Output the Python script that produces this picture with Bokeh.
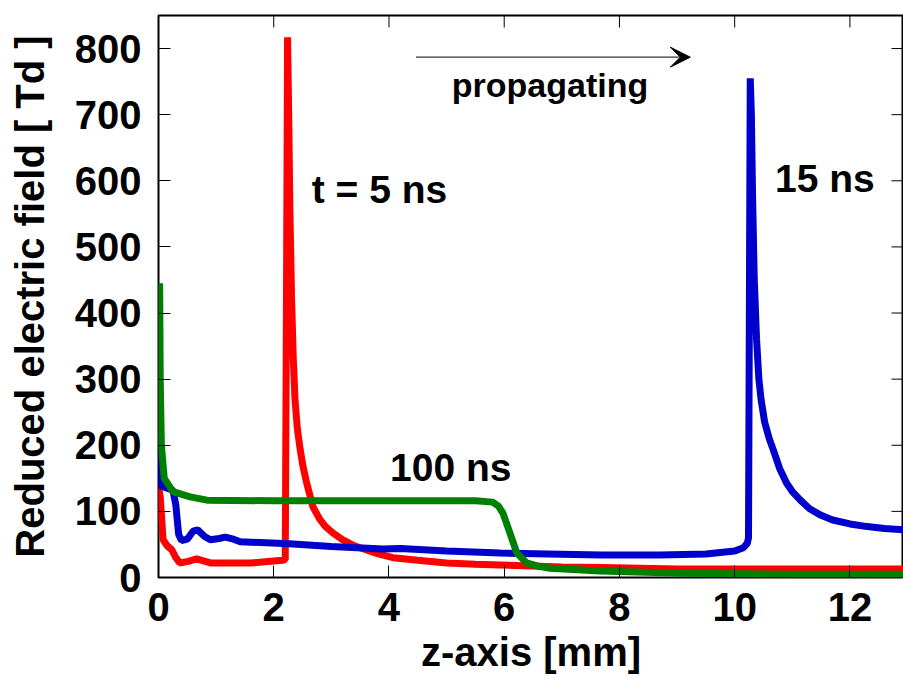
import math
from bokeh.plotting import figure
from bokeh.models import Range1d, FixedTicker, Arrow, VeeHead
from bokeh.core.properties import value
from bokeh.embed import file_html
from bokeh.resources import INLINE

# ---- data ----
z_5ns = [0.0, 0.03, 0.08, 0.15, 0.23, 0.3, 0.37, 0.5, 0.66, 0.9, 1.2, 1.6, 2.0, 2.15,
         2.2, 2.22, 2.24, 2.26, 2.28, 2.31, 2.34, 2.37, 2.41, 2.46, 2.51, 2.58, 2.68,
         2.8, 2.9, 3.03, 3.2, 3.4, 3.6, 3.8, 4.07, 4.5, 5.0, 5.5, 5.93, 7.0, 7.7,
         9.0, 11.0, 13.0]
E_5ns = [137, 122, 57, 48, 42, 30, 22, 24, 28, 22, 22, 22, 25, 26,
         27, 400, 817, 700, 560, 420, 330, 268, 225, 193, 167, 140, 107,
         88, 77, 67, 57, 48, 42, 36, 30, 26, 22, 20, 19, 16, 15,
         13, 13, 13]

z_15ns = [0.0, 0.02, 0.05, 0.15, 0.25, 0.3, 0.35, 0.4, 0.5, 0.6, 0.68, 0.8, 0.9, 1.05,
          1.16, 1.3, 1.42, 2.27, 3.0, 3.9, 4.2, 5.0, 5.93, 7.7, 8.7, 9.5, 10.0, 10.15,
          10.22, 10.24, 10.27, 10.29, 10.31, 10.34, 10.38, 10.42, 10.46, 10.52, 10.6,
          10.67, 10.78, 10.9, 11.0, 11.14, 11.3, 11.5, 11.7, 12.0, 12.3, 12.6, 12.93, 13.0]
E_15ns = [215, 145, 138, 135, 132, 110, 65, 56, 58, 70, 72, 62, 57, 59,
          61, 58, 54, 51, 47, 43, 44, 40, 37, 34, 34, 35.5, 40, 45,
          52, 60, 755, 700, 580, 450, 360, 300, 268, 235, 210,
          193, 165, 143, 130, 117, 104, 94, 87, 81, 77, 74, 72, 71.5]

z_100ns = [0.02, 0.03, 0.05, 0.1, 0.25, 0.55, 0.84, 2.0, 4.0, 5.5, 5.8, 5.9, 5.98,
           6.1, 6.22, 6.39, 6.6, 6.8, 7.66, 9.1, 11.0, 13.0]
E_100ns = [445, 300, 200, 150, 130, 122, 117, 116, 116, 116, 114, 108, 97,
           67, 37, 22, 17, 14, 10, 6.5, 5, 5]

x_ticks = [0, 2, 4, 6, 8, 10, 12]
y_ticks = [0, 100, 200, 300, 400, 500, 600, 700, 800]

label_texts = ["t = 5 ns", "15 ns", "100 ns"]
label_x = [2.66, 10.70, 4.02]
label_y = [587, 604, 166]

X_END = 12.93
Y_END = 850
FONT = "Liberation Sans"
FS = "40px"

p = figure(width=903, height=677, output_backend="svg", toolbar_location=None,
           x_range=Range1d(0, X_END), y_range=Range1d(0, Y_END),
           min_border_left=158, min_border_right=0, min_border_top=15,
           min_border_bottom=100)
p.background_fill_color = "white"
p.border_fill_color = "white"
p.xgrid.visible = False
p.ygrid.visible = False
p.outline_line_color = "black"
p.outline_line_width = 2

for ax, ticks in ((p.xaxis[0], x_ticks), (p.yaxis[0], y_ticks)):
    ax.ticker = FixedTicker(ticks=ticks)
    ax.minor_tick_line_color = None
    ax.major_tick_in = 12
    ax.major_tick_out = 0
    ax.major_tick_line_color = "black"
    ax.major_tick_line_width = 1
    ax.axis_line_color = None
    ax.major_label_text_font = FONT
    ax.major_label_text_font_style = "bold"
    ax.major_label_text_font_size = FS
    ax.major_label_text_color = "black"
    ax.axis_label_text_font = FONT
    ax.axis_label_text_font_style = "bold"
    ax.axis_label_text_font_size = FS
    ax.axis_label_text_color = "black"

p.xaxis[0].axis_label = "z-axis [mm]"
p.yaxis[0].axis_label = "Reduced electric field [ Td ]"
p.xaxis[0].major_label_standoff = 15
p.xaxis[0].axis_label_standoff = 6
p.yaxis[0].major_label_standoff = 17
p.yaxis[0].axis_label_standoff = 20

# mirror ticks on top and right edges (inward)
p.ray(x=x_ticks, y=[Y_END] * len(x_ticks), length=12, length_units="screen",
      angle=-math.pi / 2, line_color="black", line_width=1)
p.ray(x=[X_END] * len(y_ticks), y=y_ticks, length=12, length_units="screen",
      angle=math.pi, line_color="black", line_width=1)

p.line(z_5ns, E_5ns, line_color="#ff0000", line_width=7)
p.line(z_15ns, E_15ns, line_color="#0000cc", line_width=7)
p.line(z_100ns, E_100ns, line_color="#008000", line_width=7)

p.text(x=label_x, y=label_y, text=label_texts, text_font=value(FONT),
       text_font_style="bold", text_font_size="39px", text_color="black",
       text_align="left", text_baseline="alphabetic")
p.text(x=[5.09], y=[745], text=["propagating"], text_font=value(FONT),
       text_font_style="bold", text_font_size="34px", text_color="black",
       text_align="left", text_baseline="alphabetic")

p.add_layout(Arrow(end=VeeHead(size=20, fill_color="black", line_color="black", line_width=1),
                   x_start=4.47, y_start=787, x_end=9.23, y_end=787,
                   line_color="#333333", line_width=1.3))

open("out.html", "w").write(file_html(p, INLINE))
